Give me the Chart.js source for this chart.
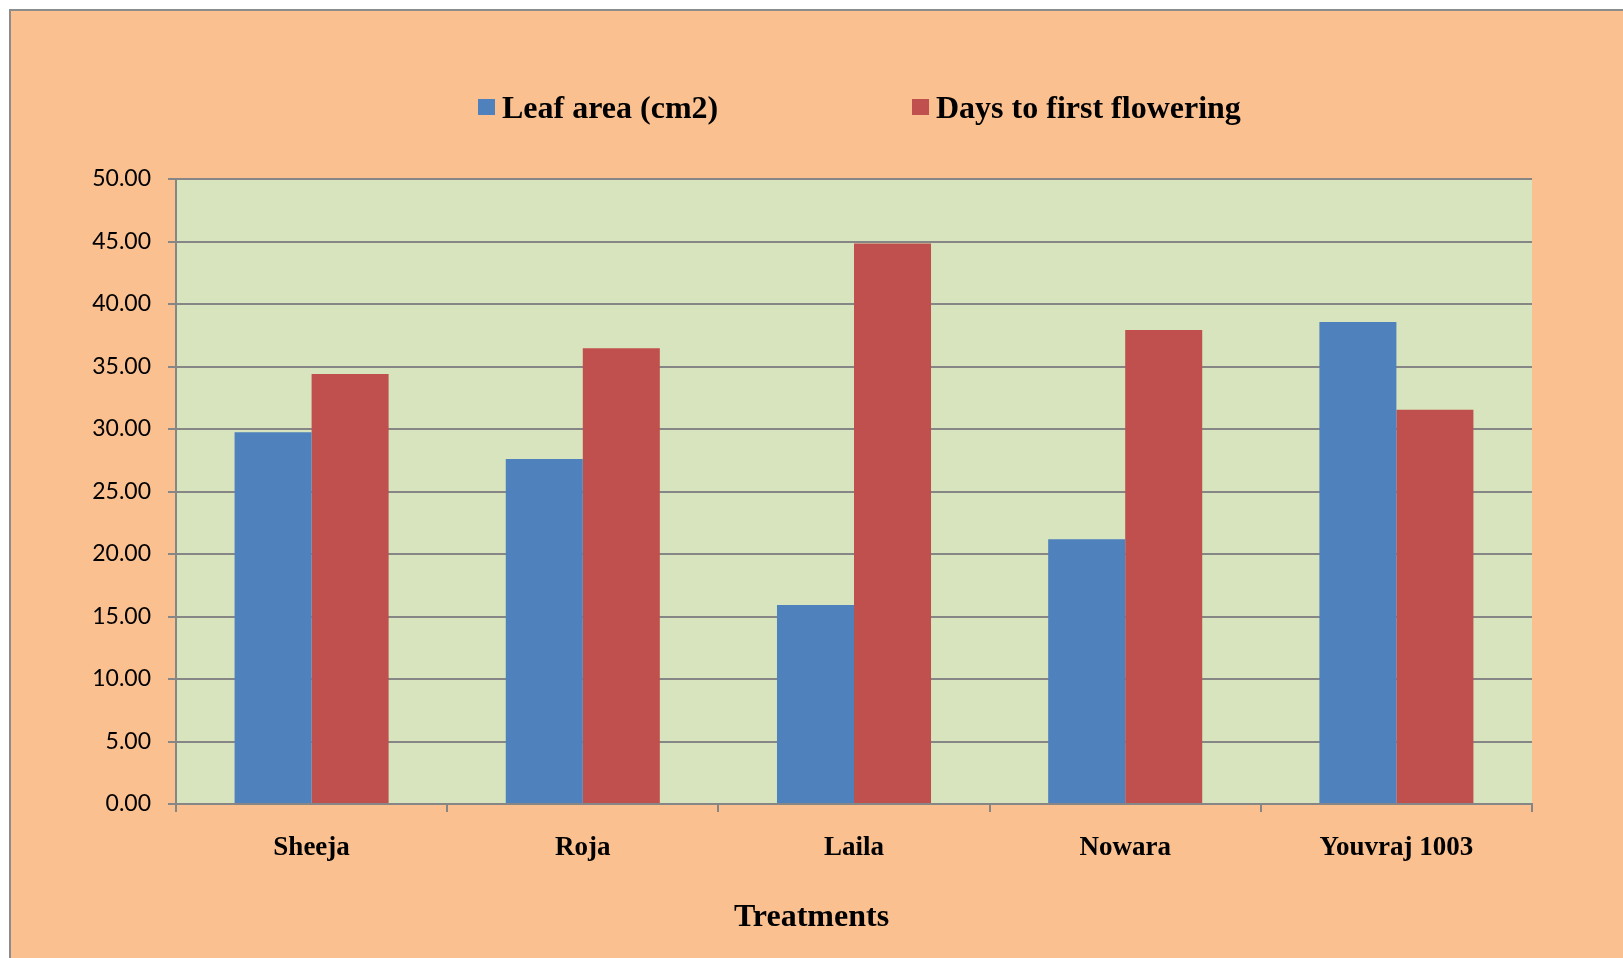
<!DOCTYPE html>
<html>
<head>
<meta charset="utf-8">
<title>Leaf area and days to first flowering by treatment</title>
<script src="https://cdn.jsdelivr.net/npm/chart.js@4.4.1/dist/chart.umd.min.js"></script>
<style>
  html, body { margin: 0; padding: 0; background: #ffffff; }
  #chart { display: block; }
</style>
</head>
<body>
<canvas id="chart" width="1623" height="958"></canvas>
<script>
// Treatments on the x axis
const categories = ['Sheeja', 'Roja', 'Laila', 'Nowara', 'Youvraj 1003'];

// Series values
const leafArea = [29.75, 27.60, 15.92, 21.18, 38.57];
const daysToFirstFlowering = [34.40, 36.47, 44.85, 37.93, 31.55];

// Series names
const seriesNames = ['Leaf area (cm2)', 'Days to first flowering'];

// Value axis ticks
const yTicks = [0, 5, 10, 15, 20, 25, 30, 35, 40, 45, 50];

const xTitle = 'Treatments';

const COLORS = {
  page: '#FAC090',
  frame: '#8C8C8C',
  plot: '#D7E4BD',
  grid: '#868686',
  blue: '#4F81BD',
  red: '#C0504D'
};

const SERIF = '"Liberation Serif", "Times New Roman", serif';
const SANS = 'Lato, "Liberation Sans", sans-serif';

// Page frame and plot-area fill
const backdrop = {
  id: 'backdrop',
  beforeDraw(chart) {
    const { ctx, width, height, chartArea } = chart;
    ctx.save();
    ctx.fillStyle = '#ffffff';
    ctx.fillRect(0, 0, width, height);
    ctx.fillStyle = COLORS.page;
    ctx.fillRect(10, 10, width - 10, height - 10);
    ctx.strokeStyle = COLORS.frame;
    ctx.lineWidth = 2;
    ctx.beginPath();
    ctx.moveTo(10, height);
    ctx.lineTo(10, 10);
    ctx.lineTo(width, 10);
    ctx.stroke();
    ctx.fillStyle = COLORS.plot;
    ctx.fillRect(chartArea.left, chartArea.top,
                 chartArea.right - chartArea.left, chartArea.bottom - chartArea.top);
    ctx.restore();
  }
};

// Legend row and the x axis title
const labelsPlugin = {
  id: 'labelsPlugin',
  afterDraw(chart) {
    const { ctx, width } = chart;
    ctx.save();
    ctx.font = 'bold 32px ' + SERIF;
    ctx.textBaseline = 'alphabetic';
    ctx.textAlign = 'left';
    const starts = [478, 912];
    chart.data.datasets.forEach((ds, i) => {
      const x = starts[i];
      ctx.fillStyle = ds.backgroundColor;
      ctx.fillRect(x, 99, 17, 16);
      ctx.fillStyle = '#000000';
      ctx.fillText(ds.label, x + 24, 118);
    });
    ctx.font = 'bold 32px ' + SERIF;
    ctx.textAlign = 'center';
    ctx.fillText(xTitle, width / 2, 926);
    ctx.restore();
  }
};

new Chart(document.getElementById('chart'), {
  type: 'bar',
  data: {
    labels: categories,
    datasets: [
      {
        label: seriesNames[0],
        data: leafArea,
        backgroundColor: COLORS.blue,
        borderWidth: 0
      },
      {
        label: seriesNames[1],
        data: daysToFirstFlowering,
        backgroundColor: COLORS.red,
        borderWidth: 0
      }
    ]
  },
  plugins: [backdrop, labelsPlugin],
  options: {
    responsive: false,
    animation: false,
    devicePixelRatio: 1,
    layout: { padding: { top: 179, right: 91, left: 0, bottom: 0 } },
    datasets: {
      bar: { categoryPercentage: 0.568, barPercentage: 1.0 }
    },
    plugins: {
      legend: { display: false },
      tooltip: { enabled: false },
      title: { display: false }
    },
    scales: {
      x: {
        offset: true,
        afterFit(scale) { scale.height = 154; },
        grid: {
          offset: true,
          drawOnChartArea: false,
          drawTicks: true,
          tickLength: 8,
          color: COLORS.grid,
          lineWidth: 2
        },
        border: { display: true, color: COLORS.grid, width: 2 },
        ticks: {
          padding: 20,
          color: '#000000',
          font: { family: SERIF, size: 27, weight: 'bold' }
        }
      },
      y: {
        min: yTicks[0],
        max: yTicks[yTicks.length - 1],
        afterFit(scale) { scale.width = 176; },
        afterBuildTicks(scale) {
          scale.ticks = yTicks.map(v => ({ value: v }));
        },
        grid: {
          drawTicks: true,
          tickLength: 8,
          color: COLORS.grid,
          lineWidth: 2
        },
        border: { display: true, color: COLORS.grid, width: 2 },
        ticks: {
          padding: 17,
          color: '#000000',
          font: { family: SANS, size: 23 },
          callback: (v) => Number(v).toFixed(2)
        }
      }
    }
  }
});
</script>
</body>
</html>
